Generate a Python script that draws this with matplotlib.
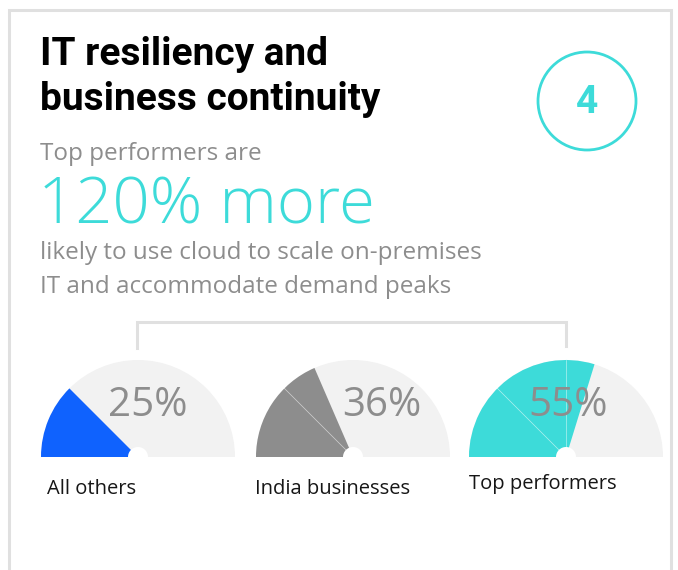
import matplotlib
matplotlib.use("Agg")
import numpy as np
import matplotlib.pyplot as plt
from matplotlib.patches import Wedge, Circle

# data
categories = ["All others", "India businesses", "Top performers"]
pct_labels = ["25%", "36%", "55%"]
fill_pct = [25, 37, 59.5]  # share of the half-dial drawn filled
headline_value = "120% more"
badge = "4"

_TEAL = "#3ddbd9"
_GRAY = "#8d8d8d"
_LIGHT = "#f2f2f2"
_BORDER = "#e0e0e0"
_COLORS = ["#0f62fe", "#8d8d8d", _TEAL]
_FONT = ["Open Sans", "DejaVu Sans"]
_BOLD = ["Roboto", "DejaVu Sans"]

W, H = 678, 570
fig = plt.figure(figsize=(W / 100, H / 100), dpi=100)
ax = fig.add_axes([0, 0, 1, 1])
ax.set_xlim(0, W)
ax.set_ylim(H, 0)
ax.axis("off")

# card border (open at bottom)
ax.plot([9, 9, 671, 671], [H, 10, 10, H], color=_BORDER, linewidth=2.2, solid_joinstyle="miter")

# title
ax.text(40, 65, "IT resiliency and", fontsize=28, fontweight="bold", family=_BOLD, va="baseline")
ax.text(40, 110, "business continuity", fontsize=28, fontweight="bold", family=_BOLD, va="baseline")

# badge
ax.add_patch(Circle((587, 101), 49, fill=False, edgecolor=_TEAL, linewidth=2))
ax.text(587, 113, badge, fontsize=28, fontweight="bold", color=_TEAL, family=_BOLD,
        ha="center", va="baseline")

ax.text(40, 160, "Top performers are", fontsize=17.5, color=_GRAY, family=_FONT, va="baseline")
ax.text(38, 224, headline_value, fontsize=47, color=_TEAL, family=_FONT, fontweight="light",
        va="baseline")
ax.text(40, 259, "likely to use cloud to scale on-premises", fontsize=17.5, color=_GRAY,
        family=_FONT, va="baseline")
ax.text(40, 293, "IT and accommodate demand peaks", fontsize=17.5, color=_GRAY,
        family=_FONT, va="baseline")

# bracket
ax.plot([137, 137, 566, 566], [348, 322, 322, 346], color=_BORDER, linewidth=2.2,
        solid_joinstyle="miter")

# gauges
centers = [138, 353, 566]
label_dx = [10, 29, 2]
name_dx = [-91, -98, -97]
name_y = [494, 494, 489]
cy, r = 457, 97
for cx, pct, lab, col, name, dx, ndx, ny in zip(centers, fill_pct, pct_labels, _COLORS,
                                               categories, label_dx, name_dx, name_y):
    # y axis is inverted, so 180..360 is the upper half
    ax.add_patch(Wedge((cx, cy), r, 180, 360, facecolor=_LIGHT, edgecolor="none"))
    end = 180 + pct / 100 * 180
    ax.add_patch(Wedge((cx, cy), r, 180, end, facecolor=col, edgecolor="none"))
    # faint segment seams
    for a in (225, 270):
        if a < end:
            t = np.deg2rad(a)
            ax.plot([cx, cx + r * np.cos(t)], [cy, cy + r * np.sin(t)], color="white",
                    linewidth=0.5, alpha=0.6)
    ax.add_patch(Circle((cx, cy), 10, facecolor="white", edgecolor="none", zorder=3))
    ax.text(cx + dx, 416, lab, fontsize=29, color=_GRAY, family=_FONT, ha="center",
            va="baseline", zorder=4)
    ax.text(cx + ndx, ny, name, fontsize=14.5, color="#161616", family=_FONT, va="baseline")

fig.savefig("out.png", dpi=100, facecolor="white")
